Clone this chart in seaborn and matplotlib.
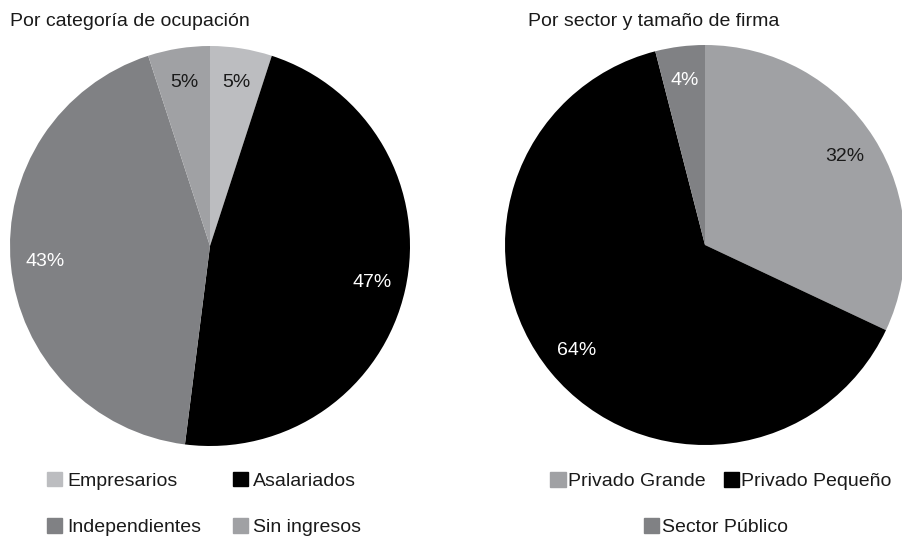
import matplotlib
matplotlib.use("Agg")
import matplotlib.pyplot as plt
import matplotlib.patches as mpatches
import seaborn as sns

sns.set_theme(style="white")
plt.rcParams['font.family'] = ['Liberation Sans', 'DejaVu Sans']

# Por categoría de ocupación
ocup_labels = ['Empresarios', 'Asalariados', 'Independientes', 'Sin ingresos']
ocup_values = [5, 47, 43, 5]
ocup_colors = ['#bcbdc0', '#000000', '#808184', '#a0a1a4']
ocup_text = ['#1a1a1a', 'white', 'white', '#1a1a1a']

# Por sector y tamaño de firma
sector_labels = ['Privado Grande', 'Privado Pequeño', 'Sector Público']
sector_values = [32, 64, 4]
sector_colors = ['#a0a1a4', '#000000', '#808184']
sector_text = ['#1a1a1a', 'white', 'white']

W, H = 902, 541
FS = 14
fig = plt.figure(figsize=(W / 100, H / 100), dpi=100)


def pie_panel(rect, values, colors, txtcols):
    ax = fig.add_axes(rect)
    wedges, texts, autotexts = ax.pie(
        values, colors=colors, startangle=90, counterclock=False,
        autopct='%1.0f%%', pctdistance=0.83, radius=1.0,
        wedgeprops=dict(linewidth=0),
        textprops=dict(fontsize=FS))
    for t, c in zip(autotexts, txtcols):
        t.set_color(c)
    ax.set_xlim(-1, 1)
    ax.set_ylim(-1, 1)
    ax.set_aspect('equal')
    ax.axis('off')
    return ax


ax1 = pie_panel([10 / W, 95 / H, 400 / W, 400 / H], ocup_values, ocup_colors, ocup_text)
ax2 = pie_panel([505 / W, 96 / H, 400 / W, 400 / H], sector_values, sector_colors, sector_text)

fig.text(10 / W, 1 - 22 / H, 'Por categoría de ocupación', fontsize=FS, va='center', ha='left', color='#1a1a1a')
fig.text(528 / W, 1 - 22 / H, 'Por sector y tamaño de firma', fontsize=FS, va='center', ha='left', color='#1a1a1a')

leg_kw = dict(frameon=False, fontsize=FS, handlelength=0.78, handleheight=0.78,
              borderpad=0, borderaxespad=0)

# left legend: row order Empresarios/Asalariados, Independientes/Sin ingresos
order = [0, 2, 1, 3]
h1 = [mpatches.Patch(color=ocup_colors[i], label=ocup_labels[i]) for i in order]
leg1 = fig.legend(handles=h1, ncol=2, loc='center', bbox_to_anchor=(204 / W, 1 - 504 / H),
                  labelspacing=1.45, columnspacing=1.6, handletextpad=0.26, **leg_kw)
for t in leg1.get_texts():
    t.set_color('#1a1a1a')

h2 = [mpatches.Patch(color=sector_colors[i], label=sector_labels[i]) for i in range(2)]
leg2 = fig.legend(handles=h2, ncol=2, loc='center', bbox_to_anchor=(721 / W, 1 - 481 / H),
                  columnspacing=0.93, handletextpad=0.12, **leg_kw)
h3 = [mpatches.Patch(color=sector_colors[2], label=sector_labels[2])]
leg3 = fig.legend(handles=h3, ncol=1, loc='center', bbox_to_anchor=(716 / W, 1 - 527 / H),
                  handletextpad=0.12, **leg_kw)
for lg in (leg2, leg3):
    for t in lg.get_texts():
        t.set_color('#1a1a1a')

fig.savefig('out.png', dpi=100, facecolor='white')
